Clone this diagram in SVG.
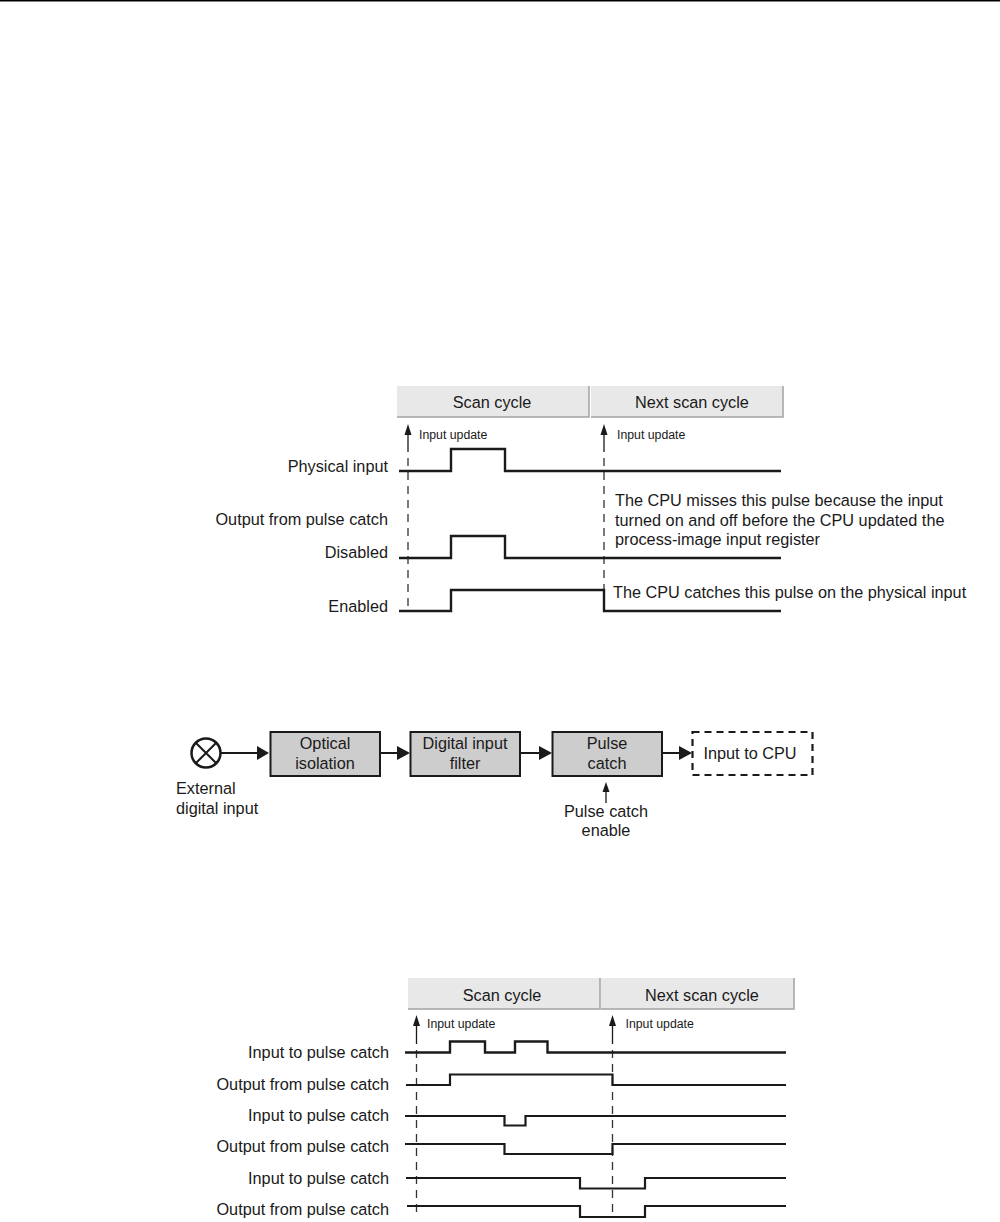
<svg xmlns="http://www.w3.org/2000/svg" width="1000" height="1222" viewBox="0 0 1000 1222">
<style>
text{font-family:"Liberation Sans",Arial,sans-serif;fill:#1a1a1a}
.l{font-size:16.25px;text-anchor:end}
.s{font-size:12.3px}
.m{font-size:16.25px}
.c{font-size:16.25px;text-anchor:middle}
.h{fill:#e8e8e8;stroke:none}
.hb{fill:none;stroke:#a3a3a3;stroke-width:1.5}
.w{fill:none;stroke:#1a1a1a;stroke-width:2.4}
.w1{fill:none;stroke:#1a1a1a;stroke-width:2.2}
.d{stroke:#333;stroke-width:1.3;stroke-dasharray:8 6;fill:none}
.u{stroke:#1a1a1a;stroke-width:1.3;fill:none}
.b{fill:#cdcdcd;stroke:#1a1a1a;stroke-width:2}
.a{stroke:#1a1a1a;stroke-width:2;fill:none}
.t{fill:#1a1a1a;stroke:none}
</style>
<rect width="1000" height="1222" fill="#fff"/>
<rect x="0" y="0" width="1000" height="1.5" fill="#000"/>
<g id="timing-1-headers">
<rect class="h" x="397" y="386" width="192" height="31"/><path class="hb" d="M397 417H589V386"/>
<rect class="h" x="591" y="386" width="192" height="31"/><path class="hb" d="M591 417H783V386"/>
<text class="c" x="492" y="407.500">Scan cycle</text>
<text class="c" x="692" y="407.500">Next scan cycle</text>
</g>
<g id="timing-1-updates">
<path class="u" d="M408 430V452"/><path class="d" d="M408 458V611"/><path class="t" d="M408 424L411.500 435H404.500Z"/>
<path class="u" d="M604 430V452"/><path class="d" d="M604 458V590"/><path class="t" d="M604 424L607.500 435H600.500Z"/>
<text class="s" x="419" y="438.500">Input update</text>
<text class="s" x="617" y="438.500">Input update</text>
</g>
<g id="timing-1-signals">
<path class="w" d="M399 471H451V449H505V471H781"/>
<path class="w" d="M399 558H451V536H505V558H781"/>
<path class="w" d="M399 611H451V590H604V611H781"/>
</g>
<g id="timing-1-labels">
<text class="l" x="388" y="472">Physical input</text>
<text class="l" x="388" y="525">Output from pulse catch</text>
<text class="l" x="388" y="558">Disabled</text>
<text class="l" x="388" y="612">Enabled</text>
<text class="m" x="615" y="506">The CPU misses this pulse because the input</text>
<text class="m" x="615" y="526">turned on and off before the CPU updated the</text>
<text class="m" x="615" y="545">process-image input register</text>
<text class="m" x="613" y="598">The CPU catches this pulse on the physical input</text>
</g>
<g id="connectors">
<path class="a" d="M221 753H262"/><path class="t" d="M269 753L257 746V760Z"/>
<path class="a" d="M380 753H403"/><path class="t" d="M410 753L397 746V760Z"/>
<path class="a" d="M520 753H545"/><path class="t" d="M552 753L539 746V760Z"/>
<path class="a" d="M662 753H685"/><path class="t" d="M692 753L679 746V760Z"/>
<path class="u" d="M606 803V788"/><path class="t" d="M606 782L609.500 792H602.500Z"/>
</g>
<g id="node-external-input">
<circle cx="206" cy="753" r="14.500" fill="#fff" stroke="#1a1a1a" stroke-width="2.500"/>
<path class="a" d="M196 743L216 763M216 743L196 763"/>
<text class="m" x="176" y="794">External</text>
<text class="m" x="176" y="814">digital input</text>
</g>
<g id="node-optical-isolation">
<rect class="b" x="270.500" y="732" width="109.500" height="44"/>
<text class="c" x="325" y="749">Optical</text>
<text class="c" x="325" y="769">isolation</text>
</g>
<g id="node-digital-input-filter">
<rect class="b" x="410.500" y="732" width="109.500" height="44"/>
<text class="c" x="465" y="749">Digital input</text>
<text class="c" x="465" y="769">filter</text>
</g>
<g id="node-pulse-catch">
<rect class="b" x="552.500" y="732" width="109.500" height="44"/>
<text class="c" x="607" y="749">Pulse</text>
<text class="c" x="607" y="769">catch</text>
</g>
<g id="node-input-to-cpu">
<rect x="692.500" y="732" width="120" height="43" fill="#fff" stroke="#1a1a1a" stroke-width="2.200" stroke-dasharray="7 5"/>
<text class="c" x="750" y="759">Input to CPU</text>
</g>
<g id="label-pulse-catch-enable">
<text class="c" x="606" y="816.500">Pulse catch</text>
<text class="c" x="606" y="836">enable</text>
</g>
<g id="timing-2-headers">
<rect class="h" x="408" y="978" width="192" height="31"/><path class="hb" d="M408 1009H600V978"/>
<rect class="h" x="601" y="978" width="193" height="31"/><path class="hb" d="M601 1009H794V978"/>
<text class="c" x="502" y="1000.500">Scan cycle</text>
<text class="c" x="702" y="1000.500">Next scan cycle</text>
</g>
<g id="timing-2-updates">
<path class="u" d="M416.500 1020V1044"/><path class="d" d="M416.500 1050V1212"/><path class="t" d="M416.500 1015L420 1026H413Z"/>
<path class="u" d="M612.500 1020V1044"/><path class="d" d="M612.500 1050V1218"/><path class="t" d="M612.500 1015L616 1026H609Z"/>
<text class="s" x="427" y="1028">Input update</text>
<text class="s" x="625.500" y="1028">Input update</text>
</g>
<g id="timing-2-signals">
<path class="w" d="M405 1052.500H450V1041.500H485V1052.500H515V1041.500H547.500V1052.500H786"/>
<path class="w1" d="M406 1085H450V1074.500H612.500V1085H786"/>
<path class="w1" d="M405 1116H504.500V1125.500H525.500V1116H786"/>
<path class="w1" d="M405 1144H504.500V1154H612.500V1144H786"/>
<path class="w1" d="M406 1178H580V1188.500H645V1178H786"/>
<path class="w1" d="M407 1206H580V1217H645V1206H786"/>
</g>
<g id="timing-2-labels">
<text class="l" x="389" y="1058">Input to pulse catch</text>
<text class="l" x="389" y="1090">Output from pulse catch</text>
<text class="l" x="389" y="1121">Input to pulse catch</text>
<text class="l" x="389" y="1152">Output from pulse catch</text>
<text class="l" x="389" y="1184">Input to pulse catch</text>
<text class="l" x="389" y="1215">Output from pulse catch</text>
</g>
</svg>
